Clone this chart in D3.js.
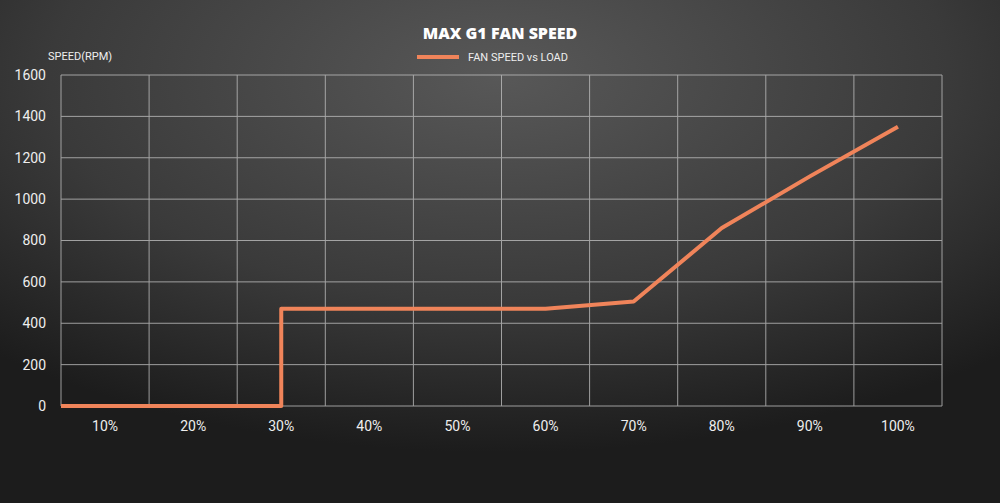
<!DOCTYPE html>
<html><head><meta charset="utf-8">
<script src="https://cdn.jsdelivr.net/npm/d3@7"></script>
<style>body{margin:0;background:#222}svg{display:block}</style>
</head><body>
<svg width="1000" height="503"></svg>
<script>
const loads = [5, 30, 30, 60, 70, 80, 90, 100];
const speeds = [0, 0, 470, 470, 505, 860, 1110, 1350];
const xTicks = [10, 20, 30, 40, 50, 60, 70, 80, 90, 100];
const yTicks = [0, 200, 400, 600, 800, 1000, 1200, 1400, 1600];
const gridX = [5, 15, 25, 35, 45, 55, 65, 75, 85, 95, 105];

const svg = d3.select("svg"),
    width = +svg.attr("width"),
    height = +svg.attr("height");

const defs = svg.append("defs");
const grad = defs.append("radialGradient").attr("id", "bg")
    .attr("cx", "50%").attr("cy", "15%").attr("r", "75%");
grad.append("stop").attr("offset", "0%").attr("stop-color", "#585858");
grad.append("stop").attr("offset", "60%").attr("stop-color", "#3a3a3a");
grad.append("stop").attr("offset", "100%").attr("stop-color", "#1c1c1c");
svg.append("rect").attr("width", width).attr("height", height).attr("fill", "url(#bg)");

const x = d3.scaleLinear().domain([5, 105]).range([61, 942]);
const y = d3.scaleLinear().domain([0, 1600]).range([406, 75]);

const grid = svg.append("g").attr("stroke", "#bdbdbd").attr("stroke-width", 1).attr("opacity", 0.8);
grid.selectAll(".gx").data(gridX).enter().append("line")
    .attr("x1", d => x(d)).attr("x2", d => x(d)).attr("y1", y(1600)).attr("y2", y(0));
grid.selectAll(".gy").data(yTicks).enter().append("line")
    .attr("x1", x(5)).attr("x2", x(105)).attr("y1", d => y(d)).attr("y2", d => y(d));

const font = "Roboto, 'Noto Sans', sans-serif";
svg.append("g").selectAll("text").data(yTicks).enter().append("text")
    .attr("x", 46).attr("y", d => y(d)).attr("dy", "0.35em")
    .attr("text-anchor", "end").attr("fill", "#eee").style("font-family", font).style("font-size", "14px")
    .text(d => d);
svg.append("g").selectAll("text").data(xTicks).enter().append("text")
    .attr("x", d => x(d)).attr("y", 431)
    .attr("text-anchor", "middle").attr("fill", "#eee").style("font-family", font).style("font-size", "14px")
    .text(d => d + "%");

svg.append("text").attr("x", 48).attr("y", 60).attr("fill", "#eee")
    .style("font-family", font).style("font-size", "11px").text("SPEED(RPM)");

svg.append("text").attr("x", 500).attr("y", 39).attr("text-anchor", "middle").attr("fill", "#fff")
    .style("font-family", "'Open Sans', sans-serif").style("font-weight", "800").style("font-size", "16px")
    .text("MAX G1 FAN SPEED");

svg.append("line").attr("x1", 417).attr("x2", 459).attr("y1", 57).attr("y2", 57)
    .attr("stroke", "#f0845a").attr("stroke-width", 4);
svg.append("text").attr("x", 468).attr("y", 61).attr("fill", "#eee")
    .style("font-family", font).style("font-size", "11px").text("FAN SPEED vs LOAD");

const line = d3.line().x((d, i) => x(loads[i])).y(d => y(d));
svg.append("path").datum(speeds).attr("d", line)
    .attr("fill", "none").attr("stroke", "#f0845a").attr("stroke-width", 4)
    .attr("stroke-linejoin", "round");
</script>
</body></html>
